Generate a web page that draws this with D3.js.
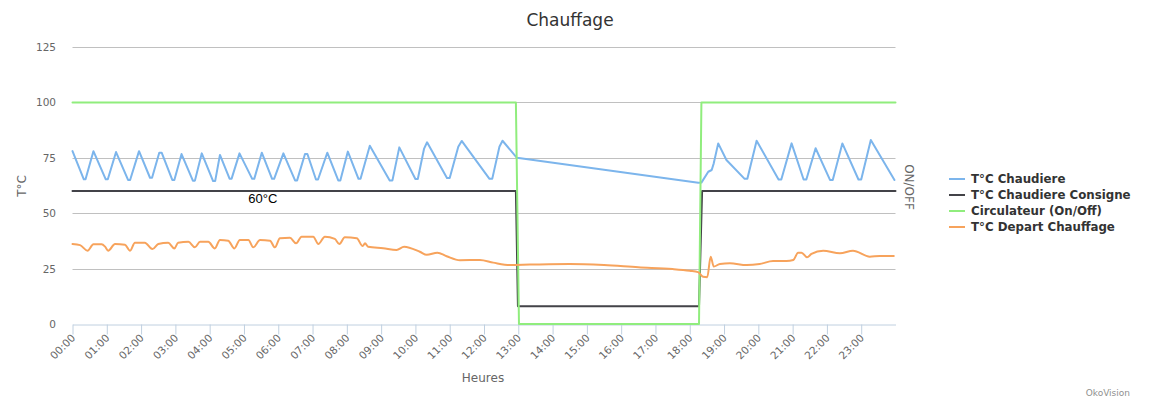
<!DOCTYPE html>
<html><head><meta charset="utf-8">
<script src="https://cdn.jsdelivr.net/npm/d3@7/dist/d3.min.js"></script>
<style>body{margin:0;background:#fff}svg{display:block}</style>
</head><body>
<svg id="chart" width="1158" height="408"></svg>
<script>
// ---- data ----
const hourTicks = [0,1,2,3,4,5,6,7,8,9,10,11,12,13,14,15,16,17,18,19,20,21,22,23];
const tickLabels = ["00:00","01:00","02:00","03:00","04:00","05:00","06:00","07:00","08:00","09:00","10:00","11:00",
  "12:00","13:00","14:00","15:00","16:00","17:00","18:00","19:00","20:00","21:00","22:00","23:00"];
const yTicks = [0,25,50,75,100,125];
const seriesNames = ["T°C Chaudiere","T°C Chaudiere Consigne","Circulateur (On/Off)","T°C Depart Chauffage"];
const seriesColors = ["#7cb5ec","#434348","#90ed7d","#f7a35c"];

const chaudiereT = [0.0,0.33,0.38,0.61,0.97,1.03,1.27,1.62,1.68,1.94,2.26,2.32,2.53,2.60,2.91,2.97,3.18,3.51,3.57,3.77,4.10,4.16,4.30,4.58,4.64,4.87,
  5.24,5.30,5.52,5.82,5.88,6.15,6.49,6.55,6.78,6.85,7.10,7.16,7.43,7.75,7.81,8.03,8.34,8.40,8.67,9.25,9.33,9.53,
  10.00,10.07,10.25,10.34,10.92,11.00,11.25,11.35,12.16,12.24,12.45,12.54,12.96,
  18.25,18.34,18.54,18.64,18.70,18.83,19.07,19.60,19.68,19.95,20.59,20.67,20.97,21.32,21.40,21.67,22.09,22.17,22.45,
  22.92,23.00,23.28,23.97];
const chaudiereV = [78,65.3,65.3,78,65.3,65.3,77.6,65,65,78,66,66,77.3,77.3,65,65,76.7,64.7,64.7,77,64.5,64.5,76.3,65.6,65.6,77,
  65.5,65.5,77.3,65.5,65.5,77,64.8,64.8,76.7,76.7,65.2,65.2,77.3,64.8,64.8,77.8,65.5,65.5,80.4,64.8,64.8,79.7,
  65.4,65.4,79,82,65.9,65.9,80,82.6,65.5,65.5,80,82.7,75,
  63.7,63.8,68.7,69.5,72.5,81.5,74,65.5,65.5,82.7,65.2,65.2,81.5,65.2,65.2,79.3,65,65,81.5,
  65.2,65.2,83,65];

const consigneT = [0,12.93,12.99,18.27,18.36,24];
const consigneV = [60,60,8,8,60,60];

const circulateurT = [0,12.93,13.02,18.27,18.34,24];
const circulateurV = [1,1,0,0,1,1];

const departT = [0.0,0.22,0.44,0.61,0.85,0.95,1.04,1.24,1.53,1.68,1.82,2.11,2.33,2.50,2.79,2.97,3.08,3.38,3.57,3.72,3.96,
  4.15,4.30,4.54,4.72,4.88,5.13,5.27,5.47,5.76,5.90,6.05,6.34,6.52,6.68,7.02,7.17,7.36,7.65,7.78,7.94,8.29,
  8.46,8.53,8.62,9.06,9.45,9.67,10.13,10.33,10.64,10.91,11.30,11.88,12.27,12.76,13.34,14.5,15.5,16.5,17.5,18.0,
  18.24,18.39,18.51,18.61,18.70,18.88,19.17,19.66,20.04,20.43,20.82,21.02,21.16,21.26,21.42,21.55,21.89,22.38,
  22.76,23.25,23.54,23.95];
const departV = [36.1,35.6,33.1,36,36,34.9,33.1,36.1,35.8,33.1,36.7,36.7,33.8,36.1,36.7,34.1,36.7,37.1,34.6,37.1,37.1,
  34.1,37.9,37.6,34.1,37.9,37.9,34.6,37.9,37.6,34.6,38.7,38.9,36.4,39.4,39.4,36.1,39.4,38.4,36.1,39.1,38.7,
  35.2,36.4,34.9,34.2,33.4,34.9,32.6,31.2,32.2,30.6,28.8,28.9,27.7,26.6,26.8,27.1,26.6,25.6,24.8,24.0,
  23.4,21.3,21.1,30.4,25.9,27.1,27.4,26.6,27.1,28.4,28.4,28.9,32.2,32.2,30.1,31.6,33.1,31.9,
  33.1,30.4,30.7,30.7];

const labelHour = 5.55;
const labelText = "60°C";

// ---- chart ----
const svg = d3.select("#chart");
const FONT = "'DejaVu Sans', Verdana, sans-serif";
const x = d3.scaleLinear().domain([0,24]).range([72.5,895.5]);
const y = d3.scaleLinear().domain([0,125]).range([324,47]);
const y2 = d3.scaleLinear().domain([0,1.25]).range([324,47]);

svg.append("text").attr("x",570).attr("y",26).attr("text-anchor","middle")
  .attr("font-family",FONT).attr("font-size",17).attr("fill","#333").text("Chauffage");

// grid
svg.append("g").selectAll("line").data(yTicks.filter(d=>d>0)).join("line")
  .attr("x1",x(0)).attr("x2",x(24))
  .attr("y1",d=>Math.round(y(d))+0.5).attr("y2",d=>Math.round(y(d))+0.5)
  .attr("stroke","#c0c0c0").attr("stroke-width",1);

// y labels
svg.append("g").selectAll("text").data(yTicks).join("text")
  .attr("x",56).attr("y",d=>y(d)+4).attr("text-anchor","end")
  .attr("font-family",FONT).attr("font-size",10.5).attr("fill","#666").text(d=>d);

// x axis
const xAxis = d3.axisBottom(x).tickValues(hourTicks).tickSize(10).tickSizeOuter(0)
  .tickFormat((d,i)=>tickLabels[i]);
const gx = svg.append("g").attr("transform","translate(0,324.5)").call(xAxis);
gx.select(".domain").attr("stroke","#c0d0e0");
gx.selectAll(".tick line").attr("stroke","#c0d0e0");
gx.selectAll(".tick text").attr("font-family",FONT).attr("font-size",10.5).attr("fill","#666")
  .attr("text-anchor","end").attr("dy",null).attr("y",0)
  .attr("transform","translate(3,14) rotate(-45)");

// axis titles
svg.append("text").attr("transform","translate(26,186) rotate(-90)").attr("text-anchor","middle")
  .attr("font-family",FONT).attr("font-size",12).attr("fill","#666").text("T°C");
svg.append("text").attr("x",483).attr("y",382).attr("text-anchor","middle")
  .attr("font-family",FONT).attr("font-size",12).attr("fill","#666").text("Heures");
svg.append("text").attr("transform","translate(905,187) rotate(90)").attr("text-anchor","middle")
  .attr("font-family",FONT).attr("font-size",12).attr("fill","#666").text("ON/OFF");

// series
const mk = (T,V,ys)=>T.map((t,i)=>[x(t),ys(V[i])]);
const smooth = d3.line().curve(d3.curveMonotoneX);
const straight = d3.line();
const series = [
  {pts: mk(chaudiereT,chaudiereV,y), gen: straight},
  {pts: mk(consigneT,consigneV,y), gen: straight},
  {pts: mk(circulateurT,circulateurV,y2), gen: straight},
  {pts: mk(departT,departV,y), gen: smooth}
];
svg.append("g").selectAll("path").data(series).join("path")
  .attr("d",d=>d.gen(d.pts)).attr("fill","none")
  .attr("stroke",(d,i)=>seriesColors[i]).attr("stroke-width",2)
  .attr("stroke-linejoin","round").attr("stroke-linecap","round");

// data label
svg.append("text").attr("x",x(labelHour)).attr("y",y(60)+12).attr("text-anchor","middle")
  .attr("font-family","'Liberation Sans', Arial, sans-serif").attr("font-size",13).attr("fill","#000").text(labelText);

// legend
const lg = svg.append("g").selectAll("g").data(seriesNames).join("g")
  .attr("transform",(d,i)=>`translate(949,${179+i*16})`);
lg.append("line").attr("x1",0).attr("x2",16).attr("y1",0).attr("y2",0)
  .attr("stroke",(d,i)=>seriesColors[i]).attr("stroke-width",2);
lg.append("text").attr("x",22).attr("y",4).attr("font-family",FONT).attr("font-weight","bold")
  .attr("font-size",11.8).attr("fill","#333").text(d=>d);

// credits
svg.append("text").attr("x",1130).attr("y",396).attr("text-anchor","end")
  .attr("font-family",FONT).attr("font-size",9).attr("fill","#909090").text("OkoVision");
</script>
</body></html>
